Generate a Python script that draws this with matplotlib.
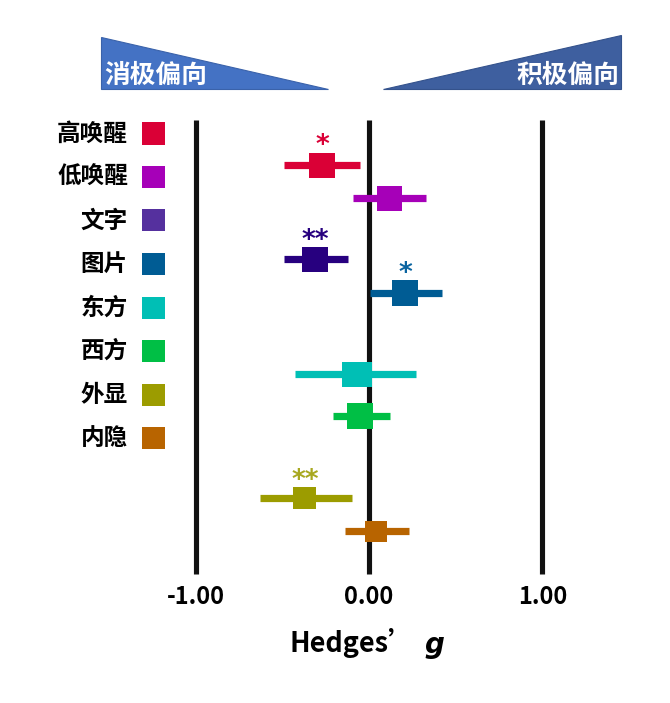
import matplotlib
matplotlib.use("Agg")
import matplotlib.pyplot as plt
from matplotlib.patches import Polygon, Rectangle

plt.rcParams['font.family'] = ['Noto Sans CJK SC', 'DejaVu Sans']

# ---------------- data ----------------
labels = ['高唤醒', '低唤醒', '文字', '图片', '东方', '西方', '外显', '内隐']
effect = [-0.27, 0.12, -0.31, 0.21, -0.07, -0.05, -0.37, 0.04]
ci_low = [-0.49, -0.09, -0.49, 0.005, -0.43, -0.21, -0.63, -0.14]
ci_high = [-0.05, 0.33, -0.12, 0.42, 0.27, 0.12, -0.10, 0.23]
signif = ['*', '', '**', '*', '', '', '**', '']
xticks = [-1.0, 0.0, 1.0]
xtick_labels = ['-1.00', '0.00', '1.00']

# ---------------- layout / style ----------------
row_pos = [0.0, 1.0, 2.84, 3.85, 6.29, 7.55, 10.02, 11.02]
box_w_px = [26, 25, 26, 26, 30, 26, 23, 22]
box_h_px = [25, 25, 25, 26, 25, 26, 22, 21]
point_colors = ['#DA0036', '#A600B8', '#27007F', '#005C94',
                '#00BFB5', '#00BF45', '#9C9C00', '#B86400']
legend_colors = ['#DA0036', '#A600B8', '#55309E', '#005C94',
                 '#00BFB5', '#00BF45', '#9C9C00', '#B86400']
star_colors = ['#DA0036', '#A600B8', '#27007F', '#0A64A0',
               '#00BFB5', '#00BF45', '#A8A820', '#B86400']

W, H = 670, 703
X0, XS = 369.0, 173.25      # pixel of g=0, pixels per unit
Y0, YS = 165.0, 33.25       # pixel of row 0, pixels per row unit

fig = plt.figure(figsize=(W / 100, H / 100), dpi=100)
ax = fig.add_axes([0, 0, 1, 1])
ax.set_xlim((0 - X0) / XS, (W - X0) / XS)
ax.set_ylim((H - Y0) / YS, (0 - Y0) / YS)
ax.axis('off')

def fx(px):
    return px / W

def fy(py):
    return 1 - py / H

# vertical reference lines
ax.vlines(xticks, (120 - Y0) / YS, (574 - Y0) / YS, colors='#111111',
          linewidth=3.7, zorder=1)

# CI lines and boxes
for i in range(len(labels)):
    y = row_pos[i]
    ax.hlines(y, ci_low[i], ci_high[i], colors=point_colors[i],
              linewidth=5.2, capstyle='butt', zorder=2)
    bw = box_w_px[i] / XS
    bh = box_h_px[i] / YS
    ax.add_patch(Rectangle((effect[i] - bw / 2, y - bh / 2), bw, bh,
                           facecolor=point_colors[i], edgecolor='none',
                           zorder=3))
    if signif[i]:
        ax.text(effect[i], y - bh / 2 + 0.2, signif[i], ha='center',
                va='bottom', fontsize=19, fontweight='bold',
                color=star_colors[i], family='DejaVu Sans', zorder=4)

# tick labels
for xv, lab in zip(xticks, xtick_labels):
    ax.text(xv, (597 - Y0) / YS, lab, ha='center', va='center',
            fontsize=17, fontweight='bold', color='black')

# axis title
fig.text(fx(289), fy(643), 'Hedges’', ha='left', va='center',
         fontsize=19.5, fontweight='bold', color='black')
fig.text(fx(424), fy(645), 'g', ha='left', va='center',
         fontsize=20, fontweight='bold', style='italic', color='black',
         family='DejaVu Sans')

# legend (labels left of colored squares)
leg_y0, leg_dy = 133.5, 43.5
for i, lab in enumerate(labels):
    py = leg_y0 + i * leg_dy
    fig.text(fx(128), fy(py), lab, ha='right', va='center', fontsize=17,
             fontweight='bold', color='black')
    fig.patches.append(Rectangle((fx(142), fy(py + 11)), 23 / W, 22 / H,
                                 transform=fig.transFigure,
                                 facecolor=legend_colors[i],
                                 edgecolor='none'))

# bias triangles
left_tri = Polygon([(fx(101), fy(37)), (fx(101), fy(89)), (fx(328), fy(89))],
                   closed=True, transform=fig.transFigure,
                   facecolor='#4472C4', edgecolor='#3A62AA', linewidth=0.8)
right_tri = Polygon([(fx(621), fy(35)), (fx(621), fy(89)), (fx(383), fy(89))],
                    closed=True, transform=fig.transFigure,
                    facecolor='#3E5F9F', edgecolor='#34528C', linewidth=0.8)
fig.patches.extend([left_tri, right_tri])
fig.text(fx(104), fy(75), '消极偏向', ha='left', va='center', fontsize=18.5,
         fontweight='bold', color='white')
fig.text(fx(619), fy(75), '积极偏向', ha='right', va='center', fontsize=18.5,
         fontweight='bold', color='white')

fig.savefig('out.png', dpi=100)
